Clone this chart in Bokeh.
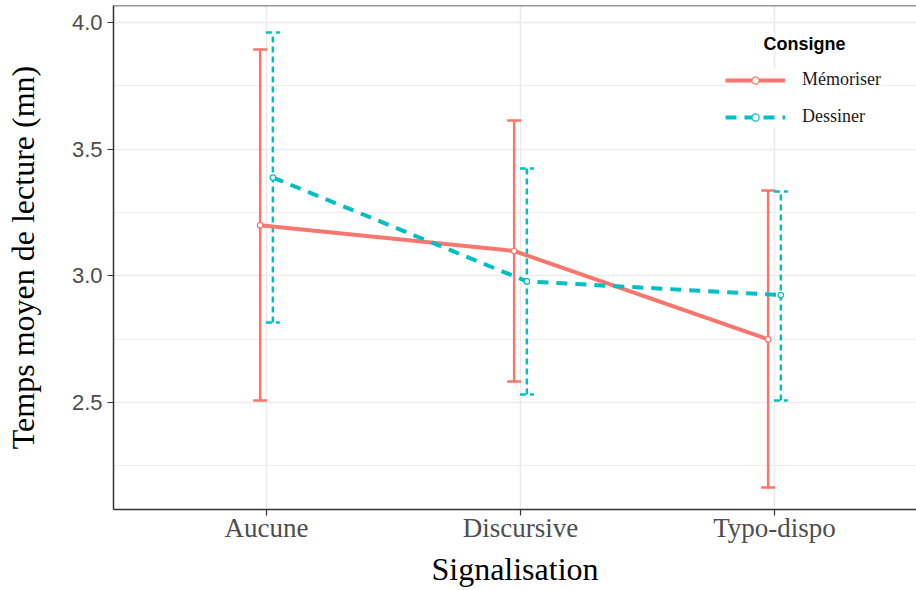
from bokeh.plotting import figure
from bokeh.models import (Range1d, FixedTicker, Legend, LegendItem, Label, Span,
                          ColumnDataSource)
from bokeh.embed import file_html
from bokeh.resources import INLINE

# ---- data ----
categories = ["Aucune", "Discursive", "Typo-dispo"]
y_ticks = [2.5, 3.0, 3.5, 4.0]
y_tick_labels = ["2.5", "3.0", "3.5", "4.0"]
y_minor_ticks = [2.25, 2.75, 3.25, 3.75]

memoriser_mean = [3.200, 3.098, 2.749]
memoriser_low = [2.508, 2.583, 2.164]
memoriser_high = [3.893, 3.613, 3.337]

dessiner_mean = [3.388, 2.978, 2.924]
dessiner_low = [2.816, 2.532, 2.508]
dessiner_high = [3.961, 3.424, 3.333]

series_names = ["Mémoriser", "Dessiner"]
legend_title = "Consigne"

# ---- style ----
RED = "#F8766D"
TEAL = "#00BFC4"
GRID = "#EBEBEB"
DARK = "#333333"
TICKTXT = "#4D4D4D"
SERIF = "Liberation Serif"
SANS = "Liberation Sans"
DODGE = 0.025
CAP = 0.055

x_pos = [i + 1 for i in range(len(categories))]

p = figure(width=916, height=590,
           x_range=Range1d(0.3976, 3.5591), y_range=Range1d(2.0776, 4.0671),
           output_backend="svg", toolbar_location=None,
           min_border_left=113, min_border_right=0, min_border_top=5,
           min_border_bottom=81)
p.outline_line_color = None
p.background_fill_color = "white"
p.border_fill_color = "white"

# axes
xa = p.xaxis[0]
xa.ticker = FixedTicker(ticks=x_pos)
xa.major_label_overrides = {x: c for x, c in zip(x_pos, categories)}
ya = p.yaxis[0]
ya.ticker = FixedTicker(ticks=y_ticks, minor_ticks=y_minor_ticks)
ya.major_label_overrides = {t: l for t, l in zip(y_ticks, y_tick_labels)}

for ax in (xa, ya):
    ax.axis_line_color = DARK
    ax.axis_line_width = 1.5
    ax.major_tick_line_color = DARK
    ax.major_tick_line_width = 1.2
    ax.major_tick_in = 0
    ax.major_tick_out = 6
    ax.minor_tick_line_color = None
    ax.major_label_text_color = TICKTXT
    ax.axis_label_text_font = SERIF
    ax.axis_label_text_font_style = "normal"
    ax.axis_label_text_font_size = "32px"
    ax.axis_label_text_color = "black"

xa.major_label_text_font = SERIF
xa.major_label_text_font_size = "27px"
xa.major_label_standoff = -3
xa.axis_label = "Signalisation"
xa.axis_label_standoff = 5

ya.major_label_text_font = SANS
ya.major_label_text_font_size = "22px"
ya.major_label_standoff = 5
ya.axis_label = "Temps moyen de lecture (mn)"
ya.axis_label_standoff = 28

# grid
p.xgrid.ticker = FixedTicker(ticks=x_pos)
p.xgrid.grid_line_color = GRID
p.xgrid.grid_line_width = 1.5
p.ygrid.grid_line_color = GRID
p.ygrid.grid_line_width = 1.5
p.ygrid.minor_grid_line_color = GRID
p.ygrid.minor_grid_line_width = 0.9

p.add_layout(Span(location=p.y_range.end, dimension="width",
                  line_color=DARK, line_width=1.5))

specs = [
    (memoriser_mean, memoriser_low, memoriser_high, RED, "solid", "solid", -DODGE),
    (dessiner_mean, dessiner_low, dessiner_high, TEAL, "11 8", "6 4", DODGE),
]

sources = []
for mean, low, high, color, ldash, edash, off in specs:
    xs = [x + off for x in x_pos]
    src = ColumnDataSource(dict(x=xs, xl=[x - CAP / 2 for x in xs],
                                xr=[x + CAP / 2 for x in xs],
                                mean=mean, low=low, high=high))
    sources.append(src)
    p.segment(x0="x", y0="low", x1="x", y1="high", source=src,
              line_color=color, line_width=2.5, line_dash=edash)
    p.segment(x0="xl", y0="high", x1="xr", y1="high", source=src,
              line_color=color, line_width=2.5, line_dash=edash)
    p.segment(x0="xl", y0="low", x1="xr", y1="low", source=src,
              line_color=color, line_width=2.5, line_dash=edash)

line_renderers = []
for (mean, low, high, color, ldash, edash, off), src in zip(specs, sources):
    r = p.line(x="x", y="mean", source=src, line_color=color, line_width=4,
               line_dash=ldash)
    line_renderers.append(r)

point_renderers = []
for (mean, low, high, color, ldash, edash, off), src in zip(specs, sources):
    r = p.scatter(x="x", y="mean", source=src, size=5.5, fill_color="white",
                  line_color=color, line_width=1.2)
    point_renderers.append(r)

items = [LegendItem(label=n, renderers=[lr, pr])
         for n, lr, pr in zip(series_names, line_renderers, point_renderers)]
legend = Legend(items=items, location=(612, 382), glyph_width=60,
                glyph_height=18, label_height=18, spacing=16, padding=6,
                label_standoff=17, label_text_font=SERIF,
                label_text_font_size="18px", label_text_color="#1A1A1A",
                border_line_color=None, background_fill_color="white",
                margin=0)
p.add_layout(legend)

p.add_layout(Label(x=2.9567, y=3.917, text=legend_title, text_font=SANS,
                   text_font_style="bold", text_font_size="18px",
                   text_color="black", text_baseline="middle"))

open("out.html", "w").write(file_html(p, INLINE))
